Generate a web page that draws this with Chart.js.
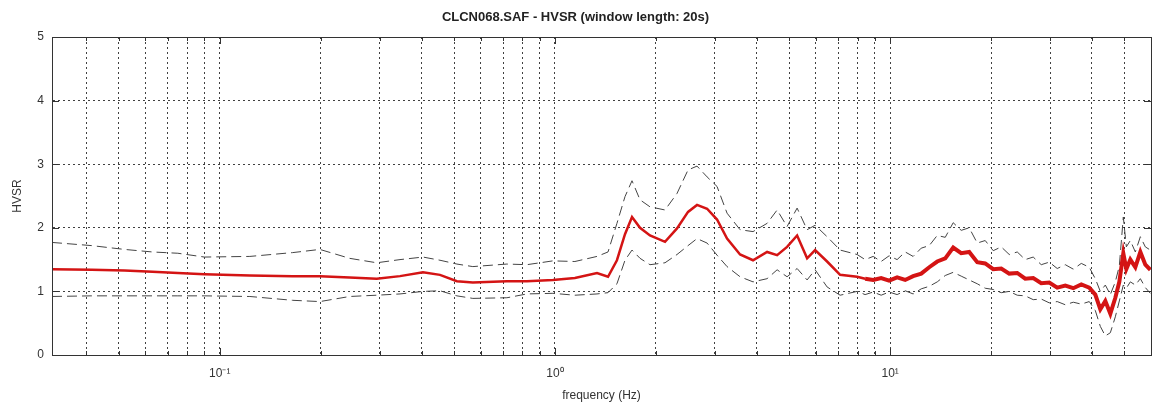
<!DOCTYPE html>
<html>
<head>
<meta charset="utf-8">
<script src="https://cdn.jsdelivr.net/npm/chart.js@4.4.1/dist/chart.umd.min.js"></script>
<style>
  html, body { margin: 0; padding: 0; background: #fff; overflow: hidden; }
  #wrap { width: 1152px; height: 406px; position: relative; }
</style>
</head>
<body>
<div id="wrap"><canvas id="hvsr-chart"></canvas></div>
<script>
// frequency (Hz) and H/V values
const freq = [
  0.0316, 0.0415, 0.052, 0.063, 0.075, 0.09, 0.123, 0.165, 0.199, 0.244,
  0.294, 0.345, 0.404, 0.454, 0.51, 0.569, 0.719, 0.825, 0.986, 1.147,
  1.335, 1.44, 1.531, 1.618, 1.698, 1.794, 1.921, 2.13, 2.313, 2.495,
  2.654, 2.844, 3.045, 3.262, 3.567, 3.899, 4.295, 4.601, 4.926, 5.278,
  5.653, 5.973, 6.485, 7.092,
  7.97, 8.42, 8.90, 9.40, 9.93, 10.49, 11.09, 11.71, 12.38, 13.08,
  13.82, 14.60, 15.42, 16.29, 17.21, 18.19, 19.21, 20.30, 21.45, 22.66,
  23.94, 25.29, 26.72, 28.23, 29.83, 31.51, 33.30, 35.18, 37.17, 39.26,
  40.92, 42.36, 43.84, 45.38, 46.96, 48.27, 49.61, 50.65, 52.06, 53.88,
  55.77, 57.71, 59.73
];
const hvsrMean = [
  1.35, 1.34, 1.33, 1.31, 1.29, 1.27, 1.25, 1.24, 1.24, 1.22,
  1.20, 1.24, 1.30, 1.26, 1.16, 1.14, 1.16, 1.16, 1.18, 1.21,
  1.29, 1.23, 1.49, 1.90, 2.17, 2.00, 1.88, 1.78, 1.99, 2.25,
  2.36, 2.30, 2.13, 1.83, 1.58, 1.49, 1.62, 1.57, 1.70, 1.88,
  1.52, 1.65, 1.47, 1.26,
  1.23, 1.20, 1.18, 1.21, 1.17, 1.22, 1.18, 1.24, 1.28, 1.38,
  1.47, 1.52, 1.69, 1.60, 1.62, 1.46, 1.44, 1.35, 1.36, 1.28,
  1.29, 1.20, 1.21, 1.13, 1.14, 1.06, 1.09, 1.05, 1.11, 1.06,
  0.95, 0.72, 0.85, 0.65, 0.90, 1.15, 1.60, 1.35, 1.50, 1.38,
  1.62, 1.42, 1.34
];
const hvsrUpper = [
  1.77, 1.72, 1.66, 1.62, 1.60, 1.54, 1.55, 1.61, 1.66, 1.52,
  1.45, 1.50, 1.54, 1.49, 1.43, 1.39, 1.43, 1.42, 1.48, 1.47,
  1.55, 1.62, 2.07, 2.49, 2.74, 2.44, 2.33, 2.28, 2.54, 2.91,
  2.97, 2.80, 2.65, 2.23, 1.97, 1.94, 2.07, 2.28, 2.02, 2.31,
  1.97, 2.04, 1.86, 1.65,
  1.58, 1.50, 1.55, 1.47, 1.56, 1.50, 1.62, 1.55, 1.68, 1.72,
  1.88, 1.85, 2.08, 1.96, 2.00, 1.76, 1.80, 1.64, 1.70, 1.58,
  1.62, 1.50, 1.54, 1.42, 1.46, 1.36, 1.42, 1.35, 1.44, 1.38,
  1.20, 1.00, 1.10, 0.95, 1.15, 1.40, 2.17, 1.70, 1.80, 1.62,
  1.86, 1.70, 1.65
];
const hvsrLower = [
  0.92, 0.93, 0.93, 0.93, 0.93, 0.93, 0.92, 0.86, 0.84, 0.92,
  0.94, 0.96, 1.00, 1.01, 0.93, 0.89, 0.90, 0.96, 0.97, 0.94,
  0.96, 0.98, 1.12, 1.49, 1.65, 1.52, 1.42, 1.45, 1.58, 1.72,
  1.83, 1.76, 1.57, 1.39, 1.23, 1.15, 1.20, 1.34, 1.23, 1.36,
  1.18, 1.34, 1.07, 0.94,
  1.00, 0.95, 0.99, 0.94, 0.99, 0.95, 1.01, 0.96, 1.04, 1.08,
  1.15, 1.25, 1.30, 1.24, 1.18, 1.12, 1.05, 1.03, 0.98, 1.00,
  0.94, 0.93, 0.87, 0.88, 0.82, 0.84, 0.79, 0.83, 0.80, 0.84,
  0.70, 0.45, 0.30, 0.35, 0.60, 0.85, 1.10, 1.05, 1.15, 1.10,
  1.20, 1.06, 0.97
];

// axis ticks
const xTicks = [0.04, 0.05, 0.06, 0.07, 0.08, 0.09, 0.1, 0.2, 0.3, 0.4, 0.5, 0.6, 0.7, 0.8, 0.9,
  1, 2, 3, 4, 5, 6, 7, 8, 9, 10, 20, 30, 40, 50];
const xMajorTicks = [0.1, 1, 10];
const xMajorLabels = ['10⁻¹', '10⁰', '10¹'];
const yTicks = [0, 1, 2, 3, 4, 5];

const toPoints = vals => vals.map((v, i) => ({ x: freq[i], y: v }));
const FONT = 'Liberation Sans, Arial, sans-serif';

// matlab-like box with inward tick marks
const axesBox = {
  id: 'axesBox',
  afterDraw(chart) {
    const { ctx, chartArea: a, scales: { x, y } } = chart;
    ctx.save();
    ctx.strokeStyle = '#333';
    ctx.lineWidth = 1;
    ctx.setLineDash([]);
    ctx.strokeRect(Math.round(a.left) + 0.5, Math.round(a.top) + 0.5,
      Math.round(a.width), Math.round(a.height));
    ctx.beginPath();
    xTicks.forEach(v => {
      const px = Math.round(x.getPixelForValue(v)) + 0.5;
      const len = xMajorTicks.includes(v) ? 7 : 4;
      ctx.moveTo(px, a.bottom); ctx.lineTo(px, a.bottom - len);
      ctx.moveTo(px, a.top); ctx.lineTo(px, a.top + len);
    });
    yTicks.forEach(v => {
      const py = Math.round(y.getPixelForValue(v)) + 0.5;
      ctx.moveTo(a.left, py); ctx.lineTo(a.left + 7, py);
      ctx.moveTo(a.right, py); ctx.lineTo(a.right - 7, py);
    });
    ctx.stroke();
    ctx.restore();
  }
};

const CHART = document.getElementById('hvsr-chart');

let hvsrChart = new Chart(CHART, {
  type: 'line',
  data: {
    datasets: [
      {
        label: 'H/V mean',
        data: toPoints(hvsrMean),
        borderColor: '#d41414',
        borderWidth: 2.5,
        pointRadius: 0,
        tension: 0,
        segment: {
          borderWidth: ctx => (ctx.p0.parsed.x >= 8 ? 4 : 2.5)
        }
      },
      {
        label: 'mean x std',
        data: toPoints(hvsrUpper),
        borderColor: '#444',
        borderWidth: 1,
        borderDash: [10, 5],
        pointRadius: 0,
        tension: 0
      },
      {
        label: 'mean / std',
        data: toPoints(hvsrLower),
        borderColor: '#444',
        borderWidth: 1,
        borderDash: [10, 5],
        pointRadius: 0,
        tension: 0
      }
    ]
  },
  options: {
    responsive: true,
    maintainAspectRatio: false,
    animation: false,
    devicePixelRatio: 1,
    layout: { padding: { left: 0, right: 1, top: 0, bottom: 0 } },
    plugins: {
      legend: { display: false },
      tooltip: { enabled: false },
      title: {
        display: true,
        text: 'CLCN068.SAF - HVSR (window length: 20s)',
        color: '#222',
        font: { family: FONT, size: 13, weight: 'bold' },
        padding: { top: 10, bottom: 11.4 }
      }
    },
    scales: {
      x: {
        type: 'logarithmic',
        min: 0.0316,
        max: 60,
        afterBuildTicks: scale => {
          scale.ticks = xTicks.map(v => ({ value: v, major: xMajorTicks.includes(v) }));
        },
        afterFit: scale => { scale.height = 51; },
        // in v4 border.dash is what dashes the grid lines
        border: { display: true, color: '#333', width: 1, dash: [2, 3] },
        grid: {
          color: 'rgba(0,0,0,0.75)',
          lineWidth: 1,
          drawTicks: false
        },
        ticks: {
          autoSkip: false,
          maxRotation: 0,
          padding: 11,
          color: '#333',
          font: { family: FONT, size: 12 },
          callback: value => {
            const i = xMajorTicks.indexOf(value);
            return i >= 0 ? xMajorLabels[i] : '';
          }
        },
        title: {
          display: true,
          text: 'frequency (Hz)',
          color: '#333',
          font: { family: FONT, size: 12 },
          padding: { top: 0, bottom: 3 }
        }
      },
      y: {
        min: 0,
        max: 5,
        afterBuildTicks: scale => {
          scale.ticks = yTicks.map(v => ({ value: v }));
        },
        afterFit: scale => { scale.width = 52; },
        border: { display: true, color: '#333', width: 1, dash: [2, 3] },
        grid: {
          color: 'rgba(0,0,0,0.75)',
          lineWidth: 1,
          drawTicks: false
        },
        ticks: {
          padding: 8,
          color: '#333',
          font: { family: FONT, size: 12 }
        },
        title: {
          display: true,
          text: 'HVSR',
          color: '#333',
          font: { family: FONT, size: 12 },
          padding: { top: 10, bottom: 0 }
        }
      }
    }
  },
  plugins: [axesBox]
});
</script>
</body>
</html>
